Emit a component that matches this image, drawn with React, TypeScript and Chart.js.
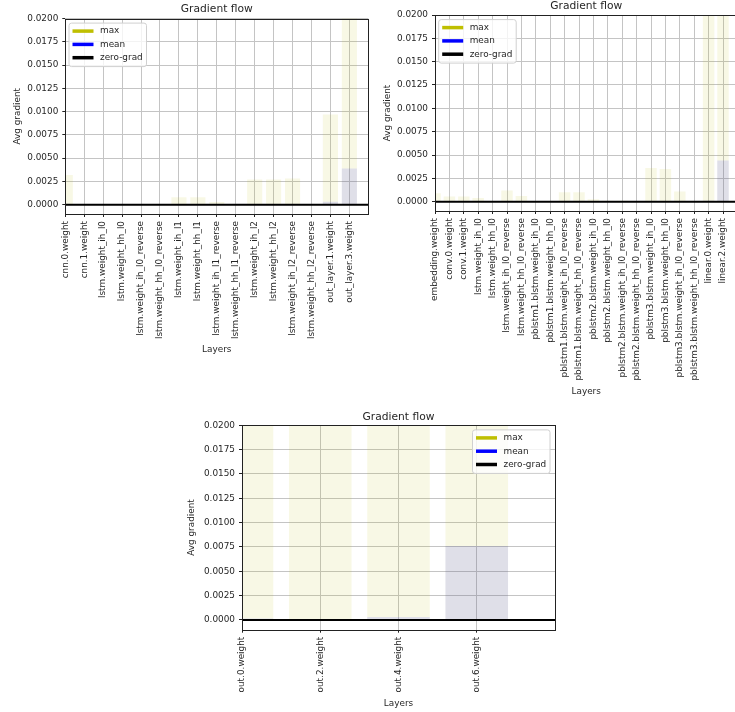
import React, { useEffect, useRef } from 'react';
import { Chart, registerables } from 'chart.js';
Chart.register(...registerables);

const FONT = '"DejaVu Sans", sans-serif';
const TEXT = '#262626';
const W = 760;
const H = 712;

// ---- data ----
const labels1 = [
  'cnn.0.weight', 'cnn.1.weight', 'lstm.weight_ih_l0', 'lstm.weight_hh_l0',
  'lstm.weight_ih_l0_reverse', 'lstm.weight_hh_l0_reverse', 'lstm.weight_ih_l1', 'lstm.weight_hh_l1',
  'lstm.weight_ih_l1_reverse', 'lstm.weight_hh_l1_reverse', 'lstm.weight_ih_l2', 'lstm.weight_hh_l2',
  'lstm.weight_ih_l2_reverse', 'lstm.weight_hh_l2_reverse', 'out_layer.1.weight', 'out_layer.3.weight',
];
const max1 = [0.0032, 0.00002, 0.00003, 0.00002, 0.00003, 0.00002, 0.0008, 0.0008, 0.0003, 0.00002, 0.0027, 0.0027, 0.0028, 0.00002, 0.0097, 0.045];
const mean1 = [0.00002, 0, 0.00001, 0, 0.00001, 0, 0.00003, 0.00003, 0.00001, 0, 0.00004, 0.00004, 0.00004, 0, 0.00032, 0.0039];

const labels2 = [
  'embedding.weight', 'conv.0.weight', 'conv.1.weight', 'lstm.weight_ih_l0', 'lstm.weight_hh_l0',
  'lstm.weight_ih_l0_reverse', 'lstm.weight_hh_l0_reverse',
  'pblstm1.blstm.weight_ih_l0', 'pblstm1.blstm.weight_hh_l0',
  'pblstm1.blstm.weight_ih_l0_reverse', 'pblstm1.blstm.weight_hh_l0_reverse',
  'pblstm2.blstm.weight_ih_l0', 'pblstm2.blstm.weight_hh_l0',
  'pblstm2.blstm.weight_ih_l0_reverse', 'pblstm2.blstm.weight_hh_l0_reverse',
  'pblstm3.blstm.weight_ih_l0', 'pblstm3.blstm.weight_hh_l0',
  'pblstm3.blstm.weight_ih_l0_reverse', 'pblstm3.blstm.weight_hh_l0_reverse',
  'linear.0.weight', 'linear.2.weight',
];
const max2 = [0.0009, 0.00055, 0.00055, 0.0004, 0.00002, 0.0012, 0.0006, 0.00002, 0.00002, 0.001, 0.001, 0.00025, 0.0001, 0.0001, 0.00002, 0.0036, 0.0035, 0.0011, 0.00002, 0.03, 0.04];
const mean2 = [0.00002, 0.00001, 0.00001, 0.00001, 0, 0.00002, 0.00001, 0, 0, 0.00002, 0.00002, 0, 0, 0, 0, 0.00005, 0.00005, 0.00002, 0, 0.0001, 0.0044];

const labels3 = ['out.0.weight', 'out.2.weight', 'out.4.weight', 'out.6.weight'];
const max3 = [0.06, 0.05, 0.055, 0.03];
const mean3 = [0.00015, 0.00005, 0.0003, 0.0076];

const yTicks = [0, 0.0025, 0.005, 0.0075, 0.01, 0.0125, 0.015, 0.0175, 0.02];
const yMin = -0.001;
const yMax = 0.02;
const legendLabels = ['max', 'mean', 'zero-grad'];
const legendColors = ['#bfbf00', '#0000ff', '#000000'];

// ---- layout (pixels) ----
const geo1 = { left: 65.3, top: 18.5, right: 368.3, bottom: 214, titleY: 9, yTitleX: 17.3, xTitleY: 349.3, legend: 'left' };
const geo2 = { left: 435, top: 15, right: 737.4, bottom: 211, titleY: 6.7, yTitleX: 387.3, xTitleY: 391.7, legend: 'left' };
const geo3 = { left: 242, top: 425.3, right: 555, bottom: 629.7, titleY: 417.3, yTitleX: 191.7, xTitleY: 703.3, legend: 'right' };

const framePlugin = {
  id: 'gfFrame',
  afterDatasetsDraw(chart: any) {
    const { ctx, chartArea } = chart;
    const l = Math.round(chartArea.left), t = Math.round(chartArea.top);
    const r = Math.round(chartArea.right), b = Math.round(chartArea.bottom);
    ctx.save();
    ctx.strokeStyle = '#222';
    ctx.lineWidth = 1;
    ctx.strokeRect(l + 0.5, t + 0.5, r - l, b - t);
    ctx.restore();
  },
};

function makeLegendPlugin(side: string) {
  return {
    id: 'gfLegend',
    afterDraw(chart: any) {
      const { ctx, chartArea } = chart;
      const w = 77.5, h = 43.5;
      const x = side === 'right' ? chartArea.right - 5 - w : chartArea.left + 3.7;
      const y = chartArea.top + 4.6;
      ctx.save();
      const rr = 2.5;
      ctx.beginPath();
      ctx.moveTo(x + rr, y);
      ctx.lineTo(x + w - rr, y);
      ctx.quadraticCurveTo(x + w, y, x + w, y + rr);
      ctx.lineTo(x + w, y + h - rr);
      ctx.quadraticCurveTo(x + w, y + h, x + w - rr, y + h);
      ctx.lineTo(x + rr, y + h);
      ctx.quadraticCurveTo(x, y + h, x, y + h - rr);
      ctx.lineTo(x, y + rr);
      ctx.quadraticCurveTo(x, y, x + rr, y);
      ctx.closePath();
      ctx.fillStyle = 'rgba(255,255,255,0.8)';
      ctx.fill();
      ctx.strokeStyle = '#d0d0d0';
      ctx.lineWidth = 1;
      ctx.stroke();
      ctx.font = `8.9px ${FONT}`;
      ctx.textBaseline = 'middle';
      ctx.textAlign = 'left';
      legendLabels.forEach((lab, i) => {
        const yy = y + 8 + i * 13.3;
        ctx.strokeStyle = legendColors[i];
        ctx.lineWidth = 3.5;
        ctx.beginPath();
        ctx.moveTo(x + 3.5, yy);
        ctx.lineTo(x + 24.5, yy);
        ctx.stroke();
        ctx.fillStyle = TEXT;
        ctx.fillText(lab, x + 31, yy);
      });
      ctx.restore();
    },
  };
}

function buildConfig(labels: string[], maxV: number[], meanV: number[], g: any): any {
  const n = labels.length;
  const titleLH = 10.7 * 1.2;
  const labLH = 8.9 * 1.2;
  const tickFont = { family: FONT, size: 8.9 };
  const gridOpts = { color: '#c4c4c4', lineWidth: 1, tickColor: '#222', tickLength: 3, drawTicks: true, offset: false };
  return {
    type: 'bar',
    data: {
      datasets: [
        {
          type: 'line', label: 'zero-grad',
          data: [{ x: 0, y: 0 }, { x: n + 1, y: 0 }],
          borderColor: '#000', borderWidth: 2, pointRadius: 0, clip: 0, order: 0,
        },
        {
          label: 'mean', data: meanV.map((v, i) => ({ x: i, y: v })),
          backgroundColor: 'rgba(0,0,255,0.1)', borderWidth: 0, grouped: false, clip: 0, order: 1,
          barPercentage: 0.8, categoryPercentage: 1,
        },
        {
          label: 'max', data: maxV.map((v, i) => ({ x: i, y: v })),
          backgroundColor: 'rgba(191,191,0,0.1)', borderWidth: 0, grouped: false, clip: 0, order: 2,
          barPercentage: 0.8, categoryPercentage: 1,
        },
      ],
    },
    options: {
      responsive: false,
      animation: false,
      devicePixelRatio: 1,
      events: [],
      layout: { padding: { left: 0, top: 0, right: W - g.right, bottom: 0 } },
      plugins: {
        legend: { display: false },
        tooltip: { enabled: false },
        title: {
          display: true, text: 'Gradient flow', fullSize: false, color: TEXT,
          font: { family: FONT, size: 10.7, weight: 'normal', lineHeight: 1.2 },
          padding: { top: g.titleY - titleLH / 2, bottom: g.top - g.titleY - titleLH / 2 },
        },
      },
      scales: {
        x: {
          type: 'linear', min: 0, max: n, offset: false,
          afterBuildTicks: (s: any) => { s.ticks = labels.map((_, i) => ({ value: i })); },
          afterFit: (s: any) => { s.height = H - g.bottom; },
          ticks: {
            autoSkip: false, minRotation: 90, maxRotation: 90, padding: 4, color: TEXT, font: tickFont,
            callback: (v: any) => labels[v] ?? '',
          },
          grid: gridOpts,
          border: { display: false },
          title: {
            display: true, text: 'Layers', color: TEXT, font: { ...tickFont, lineHeight: 1.2 },
            padding: { top: 0, bottom: H - g.xTitleY - labLH / 2 },
          },
        },
        y: {
          type: 'linear', min: yMin, max: yMax,
          afterBuildTicks: (s: any) => { s.ticks = yTicks.map((v) => ({ value: v })); },
          afterFit: (s: any) => { s.width = g.left; },
          ticks: { padding: 4, color: TEXT, font: tickFont, callback: (v: any) => Number(v).toFixed(4) },
          grid: gridOpts,
          border: { display: false },
          title: {
            display: true, text: 'Avg gradient', color: TEXT, font: { ...tickFont, lineHeight: 1.2 },
            padding: { top: g.yTitleX - labLH / 2, bottom: 0 },
          },
        },
      },
    },
    plugins: [framePlugin, makeLegendPlugin(g.legend)],
  };
}

function GradientChart({ labels, maxV, meanV, g }: any) {
  const ref = useRef<HTMLCanvasElement>(null);
  useEffect(() => {
    const chart = new Chart(ref.current as HTMLCanvasElement, buildConfig(labels, maxV, meanV, g));
    return () => chart.destroy();
  }, []);
  return (
    <canvas
      ref={ref}
      width={W}
      height={H}
      style={{ position: 'absolute', left: 0, top: 0, width: W, height: H }}
    />
  );
}

export default function App() {
  return (
    <div style={{ position: 'fixed', left: 0, top: 0, width: 735, height: 712, overflow: 'hidden', background: '#fff' }}>
      <GradientChart labels={labels1} maxV={max1} meanV={mean1} g={geo1} />
      <GradientChart labels={labels2} maxV={max2} meanV={mean2} g={geo2} />
      <GradientChart labels={labels3} maxV={max3} meanV={mean3} g={geo3} />
    </div>
  );
}
